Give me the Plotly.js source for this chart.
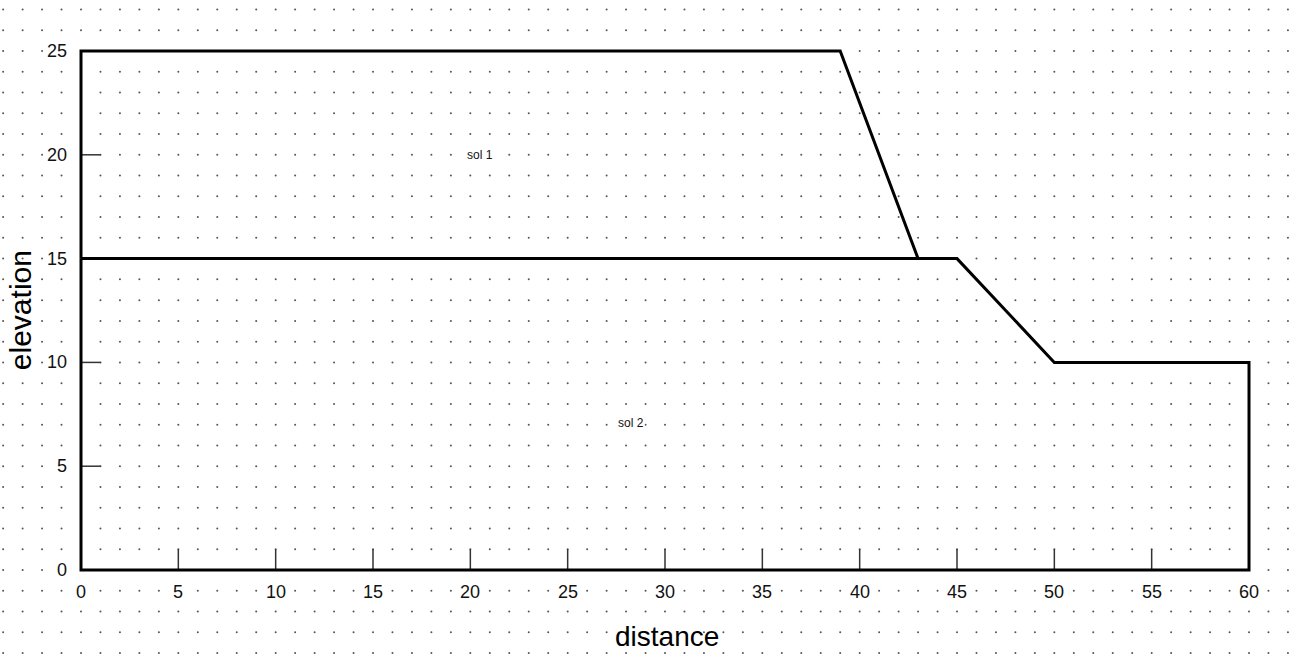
<!DOCTYPE html>
<html>
<head>
<meta charset="utf-8">
<script src="https://cdn.plot.ly/plotly-3.0.1.min.js"></script>
<style>html,body{margin:0;padding:0;background:#fff;}#chart{width:1304px;height:655px;}</style>
</head>
<body>
<div id="chart"></div>
<script>
// Geometry of the slope profile (distance, elevation)
const soil1X = [0, 0, 39, 43];
const soil1Y = [15, 25, 25, 15];
const soil2X = [0, 45, 50, 60, 60, 0, 0];
const soil2Y = [15, 15, 10, 10, 0, 0, 15];

// Region labels
const regionNames = ["sol 1", "sol 2"];
const regionX = [20.5, 28.25];
const regionY = [20, 7.1];

// Axis ticks
const xTicks = [0, 5, 10, 15, 20, 25, 30, 35, 40, 45, 50, 55, 60];
const yTicks = [0, 5, 10, 15, 20, 25];
const xTitle = "distance";
const yTitle = "elevation";

// Background dot grid (one dot per unit)
const gridXMin = -4, gridXMax = 62, gridYMin = -4, gridYMax = 27;
const gx = [], gy = [];
for (let i = gridXMin; i <= gridXMax; i++) {
  for (let j = gridYMin; j <= gridYMax; j++) { gx.push(i); gy.push(j); }
}

// tick marks (inner ticks, 1 unit long)
const tx = [], ty = [];
xTicks.filter(v => v > 0 && v < 60).forEach(v => { tx.push(v, v, null); ty.push(0, 1, null); });
yTicks.filter(v => v > 0 && v < 25).forEach(v => { tx.push(0, 1, null); ty.push(v, v, null); });

const traces = [
  {x: gx, y: gy, mode: 'markers', type: 'scatter', hoverinfo: 'skip',
   marker: {size: 2, color: '#555', line: {width: 0}}},
  {x: tx, y: ty, mode: 'lines', type: 'scatter', hoverinfo: 'skip',
   line: {color: '#333', width: 1.5}},
  {x: soil2X, y: soil2Y, mode: 'lines', type: 'scatter', hoverinfo: 'skip',
   line: {color: '#000', width: 3}},
  {x: soil1X, y: soil1Y, mode: 'lines', type: 'scatter', hoverinfo: 'skip',
   line: {color: '#000', width: 3}}
];

const tickFont = {family: 'Liberation Sans, Arial, sans-serif', size: 18, color: '#111'};
const annotations = [];
xTicks.forEach(v => annotations.push({x: v, y: -1.08, xref: 'x', yref: 'y', text: String(v),
  showarrow: false, xanchor: 'center', yanchor: 'middle', font: tickFont, bgcolor: '#fff', borderpad: 0}));
yTicks.forEach(v => annotations.push({x: -0.67, y: v, xref: 'x', yref: 'y', text: String(v),
  showarrow: false, xanchor: 'right', yanchor: 'middle', font: tickFont, bgcolor: '#fff', borderpad: 0}));
regionNames.forEach((t, i) => annotations.push({x: regionX[i], y: regionY[i], xref: 'x', yref: 'y', text: t,
  showarrow: false, xanchor: 'center', yanchor: 'middle', bgcolor: '#fff', borderpad: 0,
  font: {family: 'Liberation Sans, Arial, sans-serif', size: 12, color: '#111'}}));
annotations.push({x: 30.1, y: -3.2, xref: 'x', yref: 'y', text: xTitle, showarrow: false,
  xanchor: 'center', yanchor: 'middle', font: {family: 'Liberation Sans, Arial, sans-serif', size: 28, color: '#000'}});
annotations.push({x: -3.1, y: 12.5, xref: 'x', yref: 'y', text: yTitle, showarrow: false, textangle: -90,
  xanchor: 'center', yanchor: 'middle', font: {family: 'Liberation Sans, Arial, sans-serif', size: 30, color: '#000'}});

const layout = {
  width: 1304, height: 655,
  margin: {l: 0, r: 0, t: 0, b: 0, pad: 0},
  paper_bgcolor: '#fff', plot_bgcolor: '#fff',
  showlegend: false,
  xaxis: {range: [-4.161, 62.825], visible: false, fixedrange: true},
  yaxis: {range: [-4.094, 27.457], visible: false, fixedrange: true},
  annotations: annotations
};

Plotly.newPlot('chart', traces, layout, {staticPlot: true, displayModeBar: false});
</script>
</body>
</html>
